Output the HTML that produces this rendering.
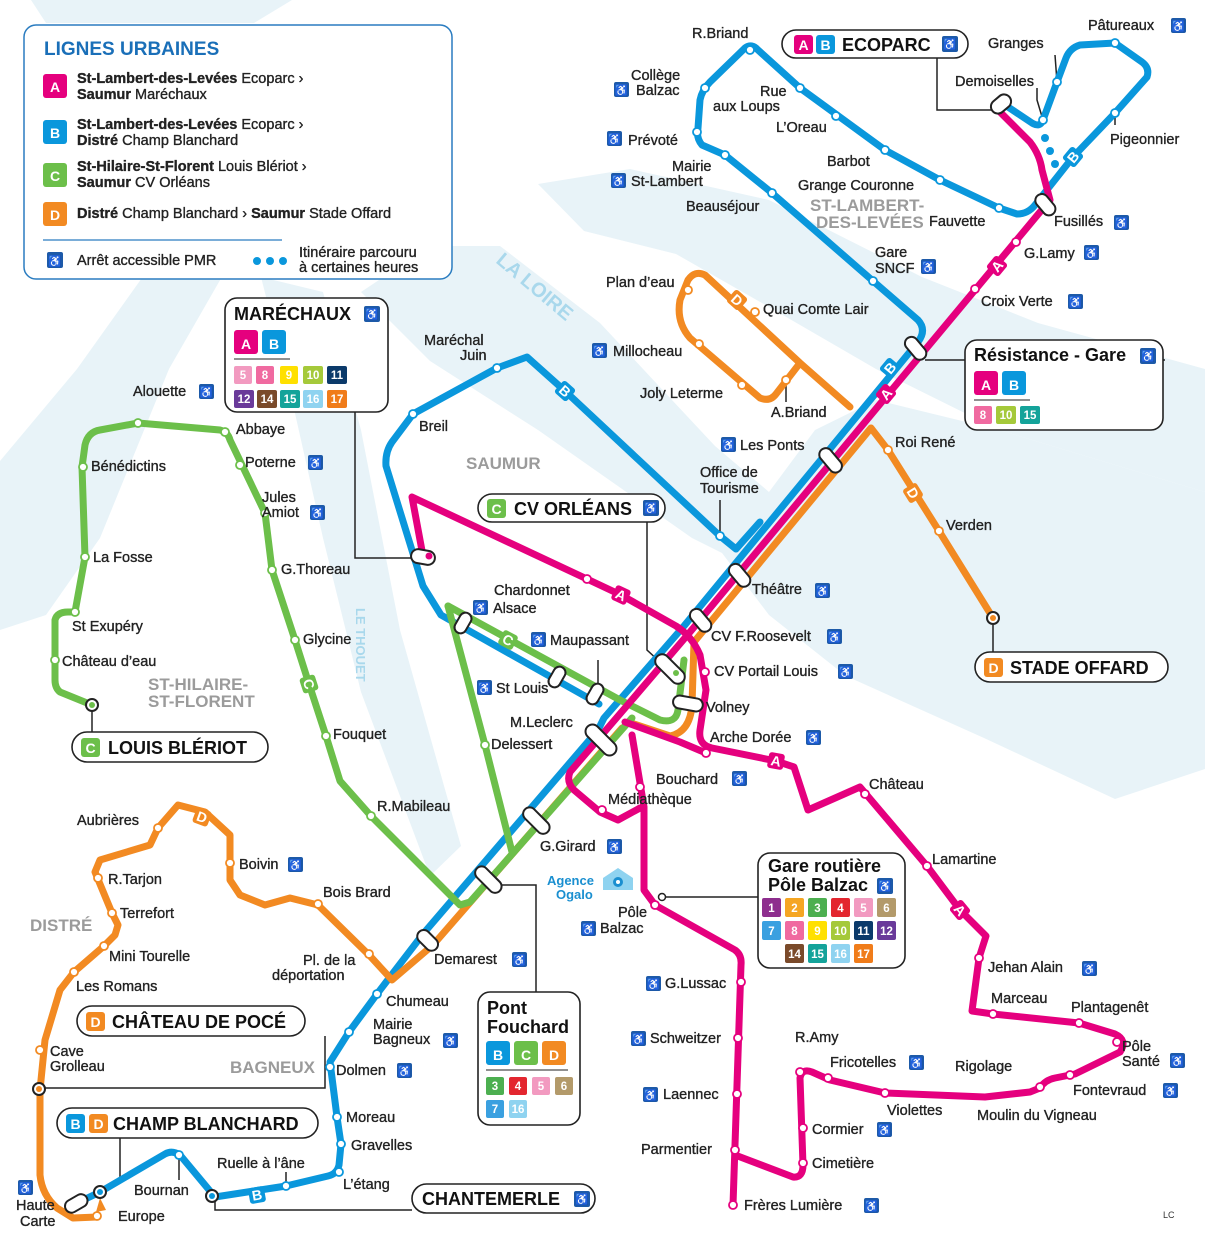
<!DOCTYPE html>
<html><head><meta charset="utf-8">
<style>
html,body{margin:0;padding:0;background:#fff;}
svg{display:block;font-family:"Liberation Sans",sans-serif;}
.l{fill:none;stroke-width:7;stroke-linejoin:round;stroke-linecap:round}
.A{stroke:#e5007e}.B{stroke:#0a97dc}.C{stroke:#6cbf4a}.D{stroke:#f28a22}
.s{fill:#fff;stroke-width:1.8}
.sA{stroke:#e5007e}.sB{stroke:#0a97dc}.sC{stroke:#6cbf4a}.sD{stroke:#f28a22}
.t{font-size:14.5px;fill:#222;stroke:#222;stroke-width:0.35}
.g{font-size:17px;font-weight:bold;fill:#9b9b9b}
.bx{fill:#fff;stroke:#222;stroke-width:1.6}
.bt{font-size:18px;font-weight:bold;fill:#111}
.pr{fill:#1d5aa8}
.pt{font-size:11px;fill:#fff;text-anchor:middle}
.bd{font-size:14px;font-weight:bold;fill:#fff;text-anchor:middle}
.n{font-size:11.5px;font-weight:bold;fill:#fff;text-anchor:middle}
.lk{fill:none;stroke:#222;stroke-width:1.5}
</style></head><body>
<svg width="1205" height="1241" viewBox="0 0 1205 1241" xmlns="http://www.w3.org/2000/svg">
<!-- water -->
<g fill="#e8f3f8">
<path d="M361,292 L430,246 L500,246 L600,323 L715,446 L769,492 L815,430 L876,400 L999,430 L1205,492 L1205,769 L1115,799 L984,738 L846,676 L769,615 L722,553 L692,538 L538,430 L430,361 Z"/>
<path d="M538,184 L630,169 L769,200 L922,277 L1038,323 L1205,369 L1205,492 L999,430 L876,369 L769,307 L676,254 L584,231 Z"/>
<path d="M261,277 L323,292 L361,430 L400,630 L461,846 L430,876 L361,692 L323,538 L292,400 Z"/>
<path d="M154,261 L231,261 L169,369 L100,538 L46,615 L0,630 L0,461 L77,369 Z"/>
<path d="M31,0 L292,0 L254,23 L46,23 Z"/>
</g>
<text x="495" y="262" transform="rotate(40 495 262)" font-size="20" font-weight="bold" fill="#a9d8ec">LA LOIRE</text>
<text x="356" y="608" transform="rotate(90 356 608)" font-size="13" font-weight="bold" fill="#a9d8ec">LE THOUET</text>

<!-- links from boxes -->
<path class="lk" d="M937,58 L937,110 L995,110"/>
<path class="lk" d="M355,412 L355,558 L413,558"/>
<path class="lk" d="M647,522 L647,650 L660,662"/>
<path class="lk" d="M1165,360 L925,360"/>
<path class="lk" d="M993,625 L993,652"/>
<path class="lk" d="M92,705 L92,732"/>
<path class="lk" d="M325,1036 L325,1088 L45,1088"/>
<path class="lk" d="M120,1137 L120,1180 L105,1190"/>
<path class="lk" d="M215,1200 L215,1210 L412,1210"/>
<path class="lk" d="M493,885 L536,885 L536,992"/>
<path class="lk" d="M662,897 L758,897"/>
<path class="lk" d="M720,536 L720,500"/>
<path class="lk" d="M786,380 L786,402"/>
<path class="lk" d="M1043,120 L1037,100 L1037,88"/>
<path class="lk" d="M1057,82 L1055,55"/>
<path class="lk" d="M1115,113 L1115,125"/>
<path class="lk" d="M598,690 L598,660"/>
<path class="lk" d="M286,1186 L286,1172"/>
<path class="lk" d="M179,1155 L179,1180"/>

<!-- LINE B -->
<path class="l B" d="M873,281 L918,320 Q927,330 918,342 L684,626 L604,718 L598,730 L423,934 L377,994 L349,1032 L330,1062 L337,1117 L341,1144 L339,1165 Q337,1174 328,1176 L286,1186 L215,1197 L180,1155 Q172,1150 165,1154 L100,1192 L75,1204"/>
<path class="l B" d="M873,281 L772,193 L725,155 L702,145 Q696,138 698,128 L700,100 Q702,90 710,82 L745,48 Q752,43 758,50 L800,88 L885,150 L940,180 L999,208 L1017,214 Q1028,214 1035,205 L1073,157 L1115,113 L1147,77 Q1150,68 1142,62 L1115,43 L1080,45 Q1070,48 1066,58 L1057,82 L1043,120 Q1040,128 1032,123 L1005,105"/>
<path class="l B" d="M599,704 L441,615 L423,586 L386,466 Q385,452 392,442 L413,414 L497,368 L527,357 L565,391 L720,536 L736,549 L760,522"/>
<g fill="#0a97dc"><circle cx="1045" cy="138" r="4"/><circle cx="1050" cy="151" r="4"/><circle cx="1055" cy="164" r="4"/></g>

<!-- LINE D -->
<path class="l D" d="M993,618 L939,531 L888,450 L871,428 L694,642 L692,705 Q690,732 670,736 L628,722"/>
<path class="l D" d="M622,728 L433,945 L392,980 L370,956 L318,905 L290,898 L265,905 L240,895 L230,880 L230,835 L205,812 L178,805 L158,828 L150,845 L100,860 L95,872 L112,913 L118,925 L115,935 L104,946 L74,972 L60,990 L45,1040 L40,1090 L40,1175 Q42,1195 57,1208 L73,1218 L97,1217"/>
<path class="l D" d="M850,407 L800,363 L705,275 Q695,270 688,280 L680,300 Q676,322 690,338 L760,398 Q770,402 776,394 L800,363"/>
<path d="M100,1198 L106,1210 L96,1212 Z" fill="#f28a22"/>

<!-- LINE C -->
<path class="l C" d="M92,705 L60,692 Q55,688 55,680 L55,620 Q57,612 68,612 L75,612 L85,557 L82,467 L85,445 Q88,432 100,430 L138,423 L220,430 Q228,432 230,440 L265,513 L272,570 L295,640 L309,684 L326,736 L340,781 L371,816 L460,905 L470,902 L632,718"/>
<path class="l C" d="M448,606 L620,700 L660,720 Q676,724 678,710 L684,660"/>
<path class="l C" d="M448,606 L485,745 L512,852"/>

<!-- LINE A -->
<path class="l A" d="M1000,112 L1030,142 Q1040,155 1042,170 L1050,200 L690,632 L625,708 L570,772 Q566,782 574,790 L600,812 L618,820 L640,808"/>
<path class="l A" d="M423,556 L412,497 L587,579 L621,595 L676,626 Q692,636 700,655 L706,690 L700,730 Q698,745 712,748 L776,761 L794,767 L808,810 L860,787 L927,866 L960,910 L986,936 L979,958 L972,1011 L993,1014 L1079,1023 L1115,1034 Q1128,1040 1120,1052 L1075,1074 L1055,1078 Q1045,1080 1040,1088 L1030,1092 L985,1097 L885,1093 L830,1080 L812,1072 Q802,1068 800,1078 L803,1165 Q803,1178 793,1177 L735,1155"/>
<path class="l A" d="M625,722 L680,742 L706,753"/>
<path class="l A" d="M632,735 L644,807 L644,890 L655,905 L735,950 Q742,955 741,965 L733,1205"/>

<!-- line badges -->
<g>
<g transform="translate(565,391) rotate(42)"><rect x="-8" y="-8" width="16" height="16" rx="3" fill="#0a97dc"/><text class="bd" y="5" font-size="12">B</text></g>
<g transform="translate(890,368) rotate(-50)"><rect x="-8" y="-8" width="16" height="16" rx="3" fill="#0a97dc"/><text class="bd" y="5" font-size="12">B</text></g>
<g transform="translate(1073,157) rotate(-50)"><rect x="-8" y="-8" width="16" height="16" rx="3" fill="#0a97dc"/><text class="bd" y="5" font-size="12">B</text></g>
<g transform="translate(257,1195) rotate(-10)"><rect x="-8" y="-8" width="16" height="16" rx="3" fill="#0a97dc"/><text class="bd" y="5" font-size="12">B</text></g>
<g transform="translate(886,394) rotate(-50)"><rect x="-8" y="-8" width="16" height="16" rx="3" fill="#e5007e"/><text class="bd" y="5" font-size="12">A</text></g>
<g transform="translate(997,266) rotate(-50)"><rect x="-8" y="-8" width="16" height="16" rx="3" fill="#e5007e"/><text class="bd" y="5" font-size="12">A</text></g>
<g transform="translate(621,595) rotate(25)"><rect x="-8" y="-8" width="16" height="16" rx="3" fill="#e5007e"/><text class="bd" y="5" font-size="12">A</text></g>
<g transform="translate(776,761) rotate(10)"><rect x="-8" y="-8" width="16" height="16" rx="3" fill="#e5007e"/><text class="bd" y="5" font-size="12">A</text></g>
<g transform="translate(960,910) rotate(50)"><rect x="-8" y="-8" width="16" height="16" rx="3" fill="#e5007e"/><text class="bd" y="5" font-size="12">A</text></g>
<g transform="translate(508,640) rotate(28)"><rect x="-8" y="-8" width="16" height="16" rx="3" fill="#6cbf4a"/><text class="bd" y="5" font-size="12">C</text></g>
<g transform="translate(309,684) rotate(72)"><rect x="-8" y="-8" width="16" height="16" rx="3" fill="#6cbf4a"/><text class="bd" y="5" font-size="12">C</text></g>
<g transform="translate(913,493) rotate(58)"><rect x="-8" y="-8" width="16" height="16" rx="3" fill="#f28a22"/><text class="bd" y="5" font-size="12">D</text></g>
<g transform="translate(737,300) rotate(42)"><rect x="-8" y="-8" width="16" height="16" rx="3" fill="#f28a22"/><text class="bd" y="5" font-size="12">D</text></g>
<g transform="translate(202,817) rotate(20)"><rect x="-8" y="-8" width="16" height="16" rx="3" fill="#f28a22"/><text class="bd" y="5" font-size="12">D</text></g>
</g>

<!-- pills (multi-line stops) -->
<g fill="#fff" stroke="#222" stroke-width="2">
<rect x="990" y="97" width="22" height="14" rx="7" transform="rotate(-40 1001 104)"/>
<rect x="1033" y="198" width="24" height="13" rx="6.5" transform="rotate(50 1045 205)"/>
<rect x="903" y="342" width="26" height="13" rx="6.5" transform="rotate(50 916 348)"/>
<rect x="817" y="454" width="28" height="13" rx="6.5" transform="rotate(50 831 460)"/>
<rect x="727" y="569" width="26" height="13" rx="6.5" transform="rotate(50 740 575)"/>
<rect x="688" y="614" width="26" height="13" rx="6.5" transform="rotate(50 701 620)"/>
<rect x="652" y="662" width="36" height="14" rx="7" transform="rotate(45 670 669)"/>
<rect x="673" y="697" width="30" height="13" rx="6.5" transform="rotate(10 688 703)"/>
<rect x="582" y="733" width="38" height="14" rx="7" transform="rotate(45 601 740)"/>
<rect x="520" y="814" width="32" height="13" rx="6.5" transform="rotate(45 536 821)"/>
<rect x="472" y="873" width="32" height="13" rx="6.5" transform="rotate(45 488 880)"/>
<rect x="416" y="934" width="24" height="13" rx="6.5" transform="rotate(45 428 940)"/>
<rect x="411" y="550" width="24" height="14" rx="7" transform="rotate(10 423 557)"/>
<rect x="452" y="617" width="22" height="12" rx="6" transform="rotate(-60 463 623)"/>
<rect x="584" y="688" width="22" height="12" rx="6" transform="rotate(-60 595 694)"/>
<rect x="546" y="671" width="22" height="12" rx="6" transform="rotate(-60 557 677)"/>
<rect x="64" y="1197" width="24" height="13" rx="6.5" transform="rotate(-30 76 1203)"/>
</g>
<circle cx="429" cy="556" r="3.5" fill="#e5007e"/>
<circle cx="676" cy="673" r="3" fill="#6cbf4a"/>

<!-- station circles -->
<g class="s sB">
<circle cx="750" cy="50" r="4"/><circle cx="800" cy="88" r="4"/><circle cx="836" cy="116" r="4"/><circle cx="885" cy="150" r="4"/><circle cx="940" cy="180" r="4"/><circle cx="999" cy="208" r="4"/>
<circle cx="705" cy="88" r="4"/><circle cx="697" cy="132" r="4"/><circle cx="725" cy="155" r="4"/><circle cx="772" cy="193" r="4"/><circle cx="873" cy="281" r="4"/>
<circle cx="1115" cy="43" r="4"/><circle cx="1057" cy="82" r="4"/><circle cx="1043" cy="120" r="4"/><circle cx="1115" cy="113" r="4"/>
<circle cx="497" cy="368" r="4"/><circle cx="413" cy="414" r="4"/><circle cx="720" cy="536" r="4"/>
<circle cx="377" cy="994" r="4"/><circle cx="349" cy="1032" r="4"/><circle cx="330" cy="1067" r="4"/><circle cx="337" cy="1117" r="4"/><circle cx="341" cy="1144" r="4"/><circle cx="339" cy="1172" r="4"/><circle cx="286" cy="1186" r="4"/><circle cx="179" cy="1155" r="4"/>
</g>
<g fill="#fff" stroke="#222" stroke-width="2"><circle cx="212" cy="1196" r="6"/><circle cx="100" cy="1192" r="6"/><circle cx="39" cy="1089" r="6"/><circle cx="92" cy="705" r="6"/><circle cx="993" cy="618" r="6"/></g>
<g fill="#0a97dc"><circle cx="212" cy="1196" r="3"/><circle cx="100" cy="1192" r="3"/></g>
<circle cx="39" cy="1089" r="3" fill="#f28a22"/><circle cx="993" cy="618" r="3" fill="#f28a22"/><circle cx="92" cy="705" r="3" fill="#6cbf4a"/>
<g class="s sA">
<circle cx="1016" cy="242" r="4"/><circle cx="975" cy="289" r="4"/><circle cx="587" cy="579" r="4"/><circle cx="705" cy="672" r="4"/><circle cx="706" cy="753" r="4"/>
<circle cx="865" cy="794" r="4"/><circle cx="927" cy="866" r="4"/><circle cx="979" cy="958" r="4"/><circle cx="993" cy="1014" r="4"/><circle cx="1079" cy="1023" r="4"/><circle cx="1117" cy="1042" r="4"/>
<circle cx="1070" cy="1075" r="4"/><circle cx="1040" cy="1087" r="4"/><circle cx="885" cy="1093" r="4"/><circle cx="828" cy="1078" r="4"/><circle cx="800" cy="1072" r="4"/><circle cx="803" cy="1128" r="4"/><circle cx="803" cy="1163" r="4"/>
<circle cx="733" cy="1205" r="4"/><circle cx="735" cy="1150" r="4"/><circle cx="737" cy="1094" r="4"/><circle cx="738" cy="1038" r="4"/><circle cx="741" cy="982" r="4"/><circle cx="655" cy="905" r="4"/>
<circle cx="602" cy="810" r="4"/><circle cx="640" cy="787" r="4"/>
</g>
<circle cx="662" cy="897" r="3.5" fill="#fff" stroke="#222" stroke-width="1.5"/>
<g class="s sC">
<circle cx="138" cy="423" r="4"/><circle cx="225" cy="432" r="4"/><circle cx="83" cy="467" r="4"/><circle cx="240" cy="465" r="4"/><circle cx="265" cy="513" r="4"/><circle cx="272" cy="570" r="4"/><circle cx="85" cy="557" r="4"/><circle cx="295" cy="640" r="4"/><circle cx="75" cy="612" r="4"/><circle cx="55" cy="660" r="4"/><circle cx="326" cy="736" r="4"/><circle cx="371" cy="816" r="4"/><circle cx="485" cy="745" r="4"/>
</g>
<g class="s sD">
<circle cx="939" cy="531" r="4"/><circle cx="888" cy="450" r="4"/><circle cx="688" cy="290" r="4"/><circle cx="755" cy="312" r="4"/><circle cx="699" cy="344" r="4"/><circle cx="742" cy="385" r="4"/><circle cx="786" cy="380" r="4"/>
<circle cx="158" cy="828" r="4"/><circle cx="230" cy="863" r="4"/><circle cx="318" cy="904" r="4"/><circle cx="98" cy="878" r="4"/><circle cx="112" cy="913" r="4"/><circle cx="104" cy="946" r="4"/><circle cx="74" cy="972" r="4"/><circle cx="369" cy="954" r="4"/><circle cx="40" cy="1050" r="4"/><circle cx="97" cy="1216" r="4"/>
</g>

<!-- legend -->
<rect x="24" y="25" width="428" height="254" rx="12" fill="#fff" stroke="#2a7cc0" stroke-width="1.5"/>
<text x="44" y="55" font-size="19" font-weight="bold" fill="#1a6fb8">LIGNES URBAINES</text>
<rect x="43" y="74" width="24" height="24" rx="3" fill="#e5007e"/><text class="bd" x="55" y="92" font-size="18">A</text>
<text class="t" x="77" y="83"><tspan font-weight="bold">St-Lambert-des-Levées</tspan> Ecoparc ›</text>
<text class="t" x="77" y="99"><tspan font-weight="bold">Saumur</tspan> Maréchaux</text>
<rect x="43" y="120" width="24" height="24" rx="3" fill="#0a97dc"/><text class="bd" x="55" y="138" font-size="18">B</text>
<text class="t" x="77" y="129"><tspan font-weight="bold">St-Lambert-des-Levées</tspan> Ecoparc ›</text>
<text class="t" x="77" y="145"><tspan font-weight="bold">Distré</tspan> Champ Blanchard</text>
<rect x="43" y="163" width="24" height="24" rx="3" fill="#6cbf4a"/><text class="bd" x="55" y="181" font-size="18">C</text>
<text class="t" x="77" y="171"><tspan font-weight="bold">St-Hilaire-St-Florent</tspan> Louis Blériot ›</text>
<text class="t" x="77" y="187"><tspan font-weight="bold">Saumur</tspan> CV Orléans</text>
<rect x="43" y="202" width="24" height="24" rx="3" fill="#f28a22"/><text class="bd" x="55" y="220" font-size="18">D</text>
<text class="t" x="77" y="218"><tspan font-weight="bold">Distré</tspan> Champ Blanchard › <tspan font-weight="bold">Saumur</tspan> Stade Offard</text>
<line x1="43" y1="240" x2="282" y2="240" stroke="#2a7cc0" stroke-width="1.2"/>
<rect class="pr" x="47" y="252" width="16" height="16" rx="2"/><text class="pt" x="55" y="265">♿</text>
<text class="t" x="77" y="265">Arrêt accessible PMR</text>
<g fill="#0a97dc"><circle cx="257" cy="261" r="4"/><circle cx="270" cy="261" r="4"/><circle cx="283" cy="261" r="4"/></g>
<text class="t" x="299" y="257">Itinéraire parcouru</text><text class="t" x="299" y="272">à certaines heures</text>

<!-- boxes -->
<rect class="bx" x="782" y="30" width="186" height="28" rx="14"/>
<rect x="794" y="35" width="19" height="19" rx="3" fill="#e5007e"/><text class="bd" x="803.5" y="50" font-size="15">A</text>
<rect x="816" y="35" width="19" height="19" rx="3" fill="#0a97dc"/><text class="bd" x="825.5" y="50" font-size="15">B</text>
<text class="bt" x="842" y="51">ECOPARC</text>
<rect class="pr" x="942" y="36" width="16" height="16" rx="2"/><text class="pt" x="950" y="48">♿</text>

<rect class="bx" x="225" y="298" width="163" height="114" rx="12"/>
<text class="bt" x="234" y="320">MARÉCHAUX</text>
<rect class="pr" x="364" y="306" width="16" height="16" rx="2"/><text class="pt" x="372" y="318">♿</text>
<rect x="234" y="330" width="24" height="24" rx="3" fill="#e5007e"/><text class="bd" x="246" y="349" font-size="19">A</text>
<rect x="262" y="330" width="24" height="24" rx="3" fill="#0a97dc"/><text class="bd" x="274" y="349" font-size="19">B</text>
<line x1="234" y1="359" x2="290" y2="359" stroke="#222" stroke-width="1"/>
<rect x="234" y="366" width="18" height="18" rx="2" fill="#f29ac0"/><text class="n" x="243" y="379">5</text>
<rect x="256" y="366" width="18" height="18" rx="2" fill="#f06aa0"/><text class="n" x="265" y="379">8</text>
<rect x="280" y="366" width="18" height="18" rx="2" fill="#ffe000"/><text class="n" x="289" y="379" fill="#111">9</text>
<rect x="303" y="366" width="20" height="18" rx="2" fill="#a5c93a"/><text class="n" x="313" y="379" fill="#111">10</text>
<rect x="327" y="366" width="20" height="18" rx="2" fill="#0b3a6a"/><text class="n" x="337" y="379">11</text>
<rect x="234" y="390" width="20" height="18" rx="2" fill="#6a3a9a"/><text class="n" x="244" y="403">12</text>
<rect x="257" y="390" width="20" height="18" rx="2" fill="#7a4a2a"/><text class="n" x="267" y="403">14</text>
<rect x="280" y="390" width="20" height="18" rx="2" fill="#14a39a"/><text class="n" x="290" y="403">15</text>
<rect x="303" y="390" width="20" height="18" rx="2" fill="#8fd3f0"/><text class="n" x="313" y="403" fill="#111">16</text>
<rect x="327" y="390" width="20" height="18" rx="2" fill="#f07c1a"/><text class="n" x="337" y="403">17</text>

<rect class="bx" x="478" y="494" width="187" height="28" rx="14"/>
<rect x="487" y="499" width="19" height="19" rx="3" fill="#6cbf4a"/><text class="bd" x="496.5" y="514" font-size="15">C</text>
<text class="bt" x="514" y="515">CV ORLÉANS</text>
<rect class="pr" x="643" y="500" width="16" height="16" rx="2"/><text class="pt" x="651" y="512">♿</text>

<rect class="bx" x="965" y="340" width="198" height="90" rx="12"/>
<text class="bt" x="974" y="361">Résistance - Gare</text>
<rect class="pr" x="1140" y="348" width="16" height="16" rx="2"/><text class="pt" x="1148" y="360">♿</text>
<rect x="974" y="371" width="24" height="24" rx="3" fill="#e5007e"/><text class="bd" x="986" y="390" font-size="19">A</text>
<rect x="1002" y="371" width="24" height="24" rx="3" fill="#0a97dc"/><text class="bd" x="1014" y="390" font-size="19">B</text>
<line x1="974" y1="400" x2="1030" y2="400" stroke="#222" stroke-width="1"/>
<rect x="974" y="406" width="18" height="18" rx="2" fill="#f06aa0"/><text class="n" x="983" y="419">8</text>
<rect x="996" y="406" width="20" height="18" rx="2" fill="#a5c93a"/><text class="n" x="1006" y="419" fill="#111">10</text>
<rect x="1020" y="406" width="20" height="18" rx="2" fill="#14a39a"/><text class="n" x="1030" y="419">15</text>

<rect class="bx" x="975" y="652" width="193" height="30" rx="15"/>
<rect x="984" y="658" width="19" height="19" rx="3" fill="#f28a22"/><text class="bd" x="993.5" y="673" font-size="15">D</text>
<text class="bt" x="1010" y="674">STADE OFFARD</text>

<rect class="bx" x="72" y="732" width="196" height="30" rx="15"/>
<rect x="81" y="738" width="19" height="19" rx="3" fill="#6cbf4a"/><text class="bd" x="90.5" y="753" font-size="15">C</text>
<text class="bt" x="108" y="754">LOUIS BLÉRIOT</text>

<rect class="bx" x="77" y="1006" width="228" height="30" rx="15"/>
<rect x="86" y="1012" width="19" height="19" rx="3" fill="#f28a22"/><text class="bd" x="95.5" y="1027" font-size="15">D</text>
<text class="bt" x="112" y="1028">CHÂTEAU DE POCÉ</text>

<rect class="bx" x="57" y="1108" width="261" height="30" rx="15"/>
<rect x="66" y="1114" width="19" height="19" rx="3" fill="#0a97dc"/><text class="bd" x="75.5" y="1129" font-size="15">B</text>
<rect x="89" y="1114" width="19" height="19" rx="3" fill="#f28a22"/><text class="bd" x="98.5" y="1129" font-size="15">D</text>
<text class="bt" x="113" y="1130">CHAMP BLANCHARD</text>

<rect class="bx" x="412" y="1184" width="183" height="29" rx="14.5"/>
<text class="bt" x="422" y="1205">CHANTEMERLE</text>
<rect class="pr" x="574" y="1191" width="16" height="16" rx="2"/><text class="pt" x="582" y="1203">♿</text>

<rect class="bx" x="758" y="853" width="147" height="115" rx="12"/>
<text class="bt" x="768" y="872" font-size="17">Gare routière</text>
<text class="bt" x="768" y="891" font-size="17">Pôle Balzac</text>
<rect class="pr" x="877" y="878" width="16" height="16" rx="2"/><text class="pt" x="885" y="890">♿</text>
<g>
<rect x="762" y="898" width="19" height="19" rx="2" fill="#8e2e8e"/><text class="n" x="771.5" y="912">1</text>
<rect x="785" y="898" width="19" height="19" rx="2" fill="#f5a623"/><text class="n" x="794.5" y="912">2</text>
<rect x="808" y="898" width="19" height="19" rx="2" fill="#4caf50"/><text class="n" x="817.5" y="912">3</text>
<rect x="831" y="898" width="19" height="19" rx="2" fill="#e3262f"/><text class="n" x="840.5" y="912">4</text>
<rect x="854" y="898" width="19" height="19" rx="2" fill="#f29ac0"/><text class="n" x="863.5" y="912">5</text>
<rect x="877" y="898" width="19" height="19" rx="2" fill="#b39a6a"/><text class="n" x="886.5" y="912">6</text>
<rect x="762" y="921" width="19" height="19" rx="2" fill="#3aa0e0"/><text class="n" x="771.5" y="935">7</text>
<rect x="785" y="921" width="19" height="19" rx="2" fill="#f06aa0"/><text class="n" x="794.5" y="935">8</text>
<rect x="808" y="921" width="19" height="19" rx="2" fill="#ffe000"/><text class="n" x="817.5" y="935" fill="#111">9</text>
<rect x="831" y="921" width="19" height="19" rx="2" fill="#a5c93a"/><text class="n" x="840.5" y="935" fill="#111">10</text>
<rect x="854" y="921" width="19" height="19" rx="2" fill="#0b3a6a"/><text class="n" x="863.5" y="935">11</text>
<rect x="877" y="921" width="19" height="19" rx="2" fill="#6a3a9a"/><text class="n" x="886.5" y="935">12</text>
<rect x="785" y="944" width="19" height="19" rx="2" fill="#7a4a2a"/><text class="n" x="794.5" y="958">14</text>
<rect x="808" y="944" width="19" height="19" rx="2" fill="#14a39a"/><text class="n" x="817.5" y="958">15</text>
<rect x="831" y="944" width="19" height="19" rx="2" fill="#8fd3f0"/><text class="n" x="840.5" y="958" fill="#111">16</text>
<rect x="854" y="944" width="19" height="19" rx="2" fill="#f07c1a"/><text class="n" x="863.5" y="958">17</text>
</g>

<rect class="bx" x="478" y="992" width="102" height="133" rx="12"/>
<text class="bt" x="487" y="1014" font-size="17">Pont</text>
<text class="bt" x="487" y="1033" font-size="17">Fouchard</text>
<rect x="486" y="1041" width="24" height="24" rx="3" fill="#0a97dc"/><text class="bd" x="498" y="1060" font-size="19">B</text>
<rect x="514" y="1041" width="24" height="24" rx="3" fill="#6cbf4a"/><text class="bd" x="526" y="1060" font-size="19">C</text>
<rect x="542" y="1041" width="24" height="24" rx="3" fill="#f28a22"/><text class="bd" x="554" y="1060" font-size="19">D</text>
<line x1="486" y1="1070" x2="568" y2="1070" stroke="#222" stroke-width="1"/>
<rect x="486" y="1077" width="18" height="18" rx="2" fill="#4caf50"/><text class="n" x="495" y="1090">3</text>
<rect x="509" y="1077" width="18" height="18" rx="2" fill="#e3262f"/><text class="n" x="518" y="1090">4</text>
<rect x="532" y="1077" width="18" height="18" rx="2" fill="#f29ac0"/><text class="n" x="541" y="1090">5</text>
<rect x="555" y="1077" width="18" height="18" rx="2" fill="#b39a6a"/><text class="n" x="564" y="1090">6</text>
<rect x="486" y="1100" width="18" height="18" rx="2" fill="#3aa0e0"/><text class="n" x="495" y="1113">7</text>
<rect x="509" y="1100" width="18" height="18" rx="2" fill="#8fd3f0"/><text class="n" x="518" y="1113" fill="#111">16</text>

<!-- Agence Ogalo -->
<text x="547" y="885" font-size="13" font-weight="bold" fill="#1a8fd0">Agence</text>
<text x="556" y="899" font-size="13" font-weight="bold" fill="#1a8fd0">Ogalo</text>
<path d="M603,890 L603,878 L618,868 L633,878 L633,890 Z" fill="#8fd3f0"/><circle cx="618" cy="882" r="5" fill="#1a8fd0"/><circle cx="618" cy="882" r="2" fill="#fff"/>

<!-- region names -->
<text class="g" x="466" y="469" font-size="24">SAUMUR</text>
<text class="g" x="810" y="211">ST-LAMBERT-</text><text class="g" x="816" y="228">DES-LEVÉES</text>
<text class="g" x="148" y="690">ST-HILAIRE-</text><text class="g" x="148" y="707">ST-FLORENT</text>
<text class="g" x="30" y="931">DISTRÉ</text>
<text class="g" x="230" y="1073">BAGNEUX</text>

<!-- labels -->
<g class="t">
<text x="692" y="38">R.Briand</text>
<text x="631" y="80">Collège</text><text x="636" y="95">Balzac</text>
<text x="760" y="96">Rue</text><text x="713" y="111">aux Loups</text>
<text x="776" y="132">L’Oreau</text>
<text x="827" y="166">Barbot</text>
<text x="798" y="190">Grange Couronne</text>
<text x="929" y="226">Fauvette</text>
<text x="875" y="257">Gare</text><text x="875" y="273">SNCF</text>
<text x="628" y="145">Prévoté</text>
<text x="672" y="171">Mairie</text><text x="631" y="186">St-Lambert</text>
<text x="686" y="211">Beauséjour</text>
<text x="955" y="86">Demoiselles</text>
<text x="988" y="48">Granges</text>
<text x="1088" y="30">Pâtureaux</text>
<text x="1110" y="144">Pigeonnier</text>
<text x="1054" y="226">Fusillés</text>
<text x="1024" y="258">G.Lamy</text>
<text x="981" y="306">Croix Verte</text>
<text x="606" y="287">Plan d’eau</text>
<text x="763" y="314">Quai Comte Lair</text>
<text x="613" y="356">Millocheau</text>
<text x="640" y="398">Joly Leterme</text>
<text x="771" y="417">A.Briand</text>
<text x="740" y="450">Les Ponts</text>
<text x="700" y="477">Office de</text><text x="700" y="493">Tourisme</text>
<text x="895" y="447">Roi René</text>
<text x="946" y="530">Verden</text>
<text x="752" y="594">Théâtre</text>
<text x="711" y="641">CV F.Roosevelt</text>
<text x="714" y="676">CV Portail Louis</text>
<text x="706" y="712">Volney</text>
<text x="710" y="742">Arche Dorée</text>
<text x="656" y="784">Bouchard</text>
<text x="608" y="804">Médiathèque</text>
<text x="869" y="789">Château</text>
<text x="932" y="864">Lamartine</text>
<text x="988" y="972">Jehan Alain</text>
<text x="991" y="1003">Marceau</text>
<text x="1071" y="1012">Plantagenêt</text>
<text x="1122" y="1051">Pôle</text><text x="1122" y="1066">Santé</text>
<text x="1073" y="1095">Fontevraud</text>
<text x="955" y="1071">Rigolage</text>
<text x="977" y="1120">Moulin du Vigneau</text>
<text x="887" y="1115">Violettes</text>
<text x="830" y="1067">Fricotelles</text>
<text x="795" y="1042">R.Amy</text>
<text x="812" y="1134">Cormier</text>
<text x="812" y="1168">Cimetière</text>
<text x="744" y="1210">Frères Lumière</text>
<text x="641" y="1154">Parmentier</text>
<text x="663" y="1099">Laennec</text>
<text x="650" y="1043">Schweitzer</text>
<text x="665" y="988">G.Lussac</text>
<text x="618" y="917">Pôle</text><text x="600" y="933">Balzac</text>
<text x="540" y="851">G.Girard</text>
<text x="434" y="964">Demarest</text>
<text x="386" y="1006">Chumeau</text>
<text x="373" y="1029">Mairie</text><text x="373" y="1044">Bagneux</text>
<text x="336" y="1075">Dolmen</text>
<text x="346" y="1122">Moreau</text>
<text x="351" y="1150">Gravelles</text>
<text x="343" y="1189">L’étang</text>
<text x="217" y="1168">Ruelle à l’âne</text>
<text x="134" y="1195">Bournan</text>
<text x="118" y="1221">Europe</text>
<text x="16" y="1210">Haute</text><text x="20" y="1226">Carte</text>
<text x="424" y="345">Maréchal</text><text x="460" y="360">Juin</text>
<text x="419" y="431">Breil</text>
<text x="494" y="595">Chardonnet</text>
<text x="493" y="613">Alsace</text>
<text x="550" y="645">Maupassant</text>
<text x="496" y="693">St Louis</text>
<text x="510" y="727">M.Leclerc</text>
<text x="491" y="749">Delessert</text>
<text x="133" y="396">Alouette</text>
<text x="236" y="434">Abbaye</text>
<text x="91" y="471">Bénédictins</text>
<text x="245" y="467">Poterne</text>
<text x="262" y="502">Jules</text><text x="262" y="517">Amiot</text>
<text x="281" y="574">G.Thoreau</text>
<text x="93" y="562">La Fosse</text>
<text x="303" y="644">Glycine</text>
<text x="72" y="631">St Exupéry</text>
<text x="62" y="666">Château d’eau</text>
<text x="333" y="739">Fouquet</text>
<text x="377" y="811">R.Mabileau</text>
<text x="77" y="825">Aubrières</text>
<text x="108" y="884">R.Tarjon</text>
<text x="239" y="869">Boivin</text>
<text x="323" y="897">Bois Brard</text>
<text x="120" y="918">Terrefort</text>
<text x="109" y="961">Mini Tourelle</text>
<text x="303" y="965">Pl. de la</text><text x="272" y="980">déportation</text>
<text x="76" y="991">Les Romans</text>
<text x="50" y="1056">Cave</text><text x="50" y="1071">Grolleau</text>
</g>

<!-- PMR icons -->
<g>
<rect class="pr" x="1171" y="18" width="15" height="15" rx="2"/><text class="pt" x="1178.5" y="30">♿</text>
<rect class="pr" x="614" y="82" width="15" height="15" rx="2"/><text class="pt" x="621.5" y="94">♿</text>
<rect class="pr" x="921" y="259" width="15" height="15" rx="2"/><text class="pt" x="928.5" y="271">♿</text>
<rect class="pr" x="607" y="131" width="15" height="15" rx="2"/><text class="pt" x="614.5" y="143">♿</text>
<rect class="pr" x="611" y="173" width="15" height="15" rx="2"/><text class="pt" x="618.5" y="185">♿</text>
<rect class="pr" x="1114" y="215" width="15" height="15" rx="2"/><text class="pt" x="1121.5" y="227">♿</text>
<rect class="pr" x="1084" y="245" width="15" height="15" rx="2"/><text class="pt" x="1091.5" y="257">♿</text>
<rect class="pr" x="1068" y="294" width="15" height="15" rx="2"/><text class="pt" x="1075.5" y="306">♿</text>
<rect class="pr" x="592" y="343" width="15" height="15" rx="2"/><text class="pt" x="599.5" y="355">♿</text>
<rect class="pr" x="721" y="437" width="15" height="15" rx="2"/><text class="pt" x="728.5" y="449">♿</text>
<rect class="pr" x="815" y="583" width="15" height="15" rx="2"/><text class="pt" x="822.5" y="595">♿</text>
<rect class="pr" x="827" y="629" width="15" height="15" rx="2"/><text class="pt" x="834.5" y="641">♿</text>
<rect class="pr" x="838" y="664" width="15" height="15" rx="2"/><text class="pt" x="845.5" y="676">♿</text>
<rect class="pr" x="806" y="730" width="15" height="15" rx="2"/><text class="pt" x="813.5" y="742">♿</text>
<rect class="pr" x="732" y="771" width="15" height="15" rx="2"/><text class="pt" x="739.5" y="783">♿</text>
<rect class="pr" x="1082" y="961" width="15" height="15" rx="2"/><text class="pt" x="1089.5" y="973">♿</text>
<rect class="pr" x="1170" y="1053" width="15" height="15" rx="2"/><text class="pt" x="1177.5" y="1065">♿</text>
<rect class="pr" x="1163" y="1083" width="15" height="15" rx="2"/><text class="pt" x="1170.5" y="1095">♿</text>
<rect class="pr" x="909" y="1055" width="15" height="15" rx="2"/><text class="pt" x="916.5" y="1067">♿</text>
<rect class="pr" x="877" y="1122" width="15" height="15" rx="2"/><text class="pt" x="884.5" y="1134">♿</text>
<rect class="pr" x="864" y="1198" width="15" height="15" rx="2"/><text class="pt" x="871.5" y="1210">♿</text>
<rect class="pr" x="643" y="1087" width="15" height="15" rx="2"/><text class="pt" x="650.5" y="1099">♿</text>
<rect class="pr" x="631" y="1031" width="15" height="15" rx="2"/><text class="pt" x="638.5" y="1043">♿</text>
<rect class="pr" x="646" y="976" width="15" height="15" rx="2"/><text class="pt" x="653.5" y="988">♿</text>
<rect class="pr" x="581" y="921" width="15" height="15" rx="2"/><text class="pt" x="588.5" y="933">♿</text>
<rect class="pr" x="607" y="839" width="15" height="15" rx="2"/><text class="pt" x="614.5" y="851">♿</text>
<rect class="pr" x="512" y="952" width="15" height="15" rx="2"/><text class="pt" x="519.5" y="964">♿</text>
<rect class="pr" x="443" y="1033" width="15" height="15" rx="2"/><text class="pt" x="450.5" y="1045">♿</text>
<rect class="pr" x="397" y="1063" width="15" height="15" rx="2"/><text class="pt" x="404.5" y="1075">♿</text>
<rect class="pr" x="18" y="1180" width="15" height="15" rx="2"/><text class="pt" x="25.5" y="1192">♿</text>
<rect class="pr" x="473" y="600" width="15" height="15" rx="2"/><text class="pt" x="480.5" y="612">♿</text>
<rect class="pr" x="531" y="632" width="15" height="15" rx="2"/><text class="pt" x="538.5" y="644">♿</text>
<rect class="pr" x="477" y="680" width="15" height="15" rx="2"/><text class="pt" x="484.5" y="692">♿</text>
<rect class="pr" x="199" y="384" width="15" height="15" rx="2"/><text class="pt" x="206.5" y="396">♿</text>
<rect class="pr" x="308" y="455" width="15" height="15" rx="2"/><text class="pt" x="315.5" y="467">♿</text>
<rect class="pr" x="310" y="505" width="15" height="15" rx="2"/><text class="pt" x="317.5" y="517">♿</text>
<rect class="pr" x="288" y="857" width="15" height="15" rx="2"/><text class="pt" x="295.5" y="869">♿</text>
</g>
<text x="1163" y="1218" font-size="9" fill="#333">LC</text>
</svg>
</body></html>
